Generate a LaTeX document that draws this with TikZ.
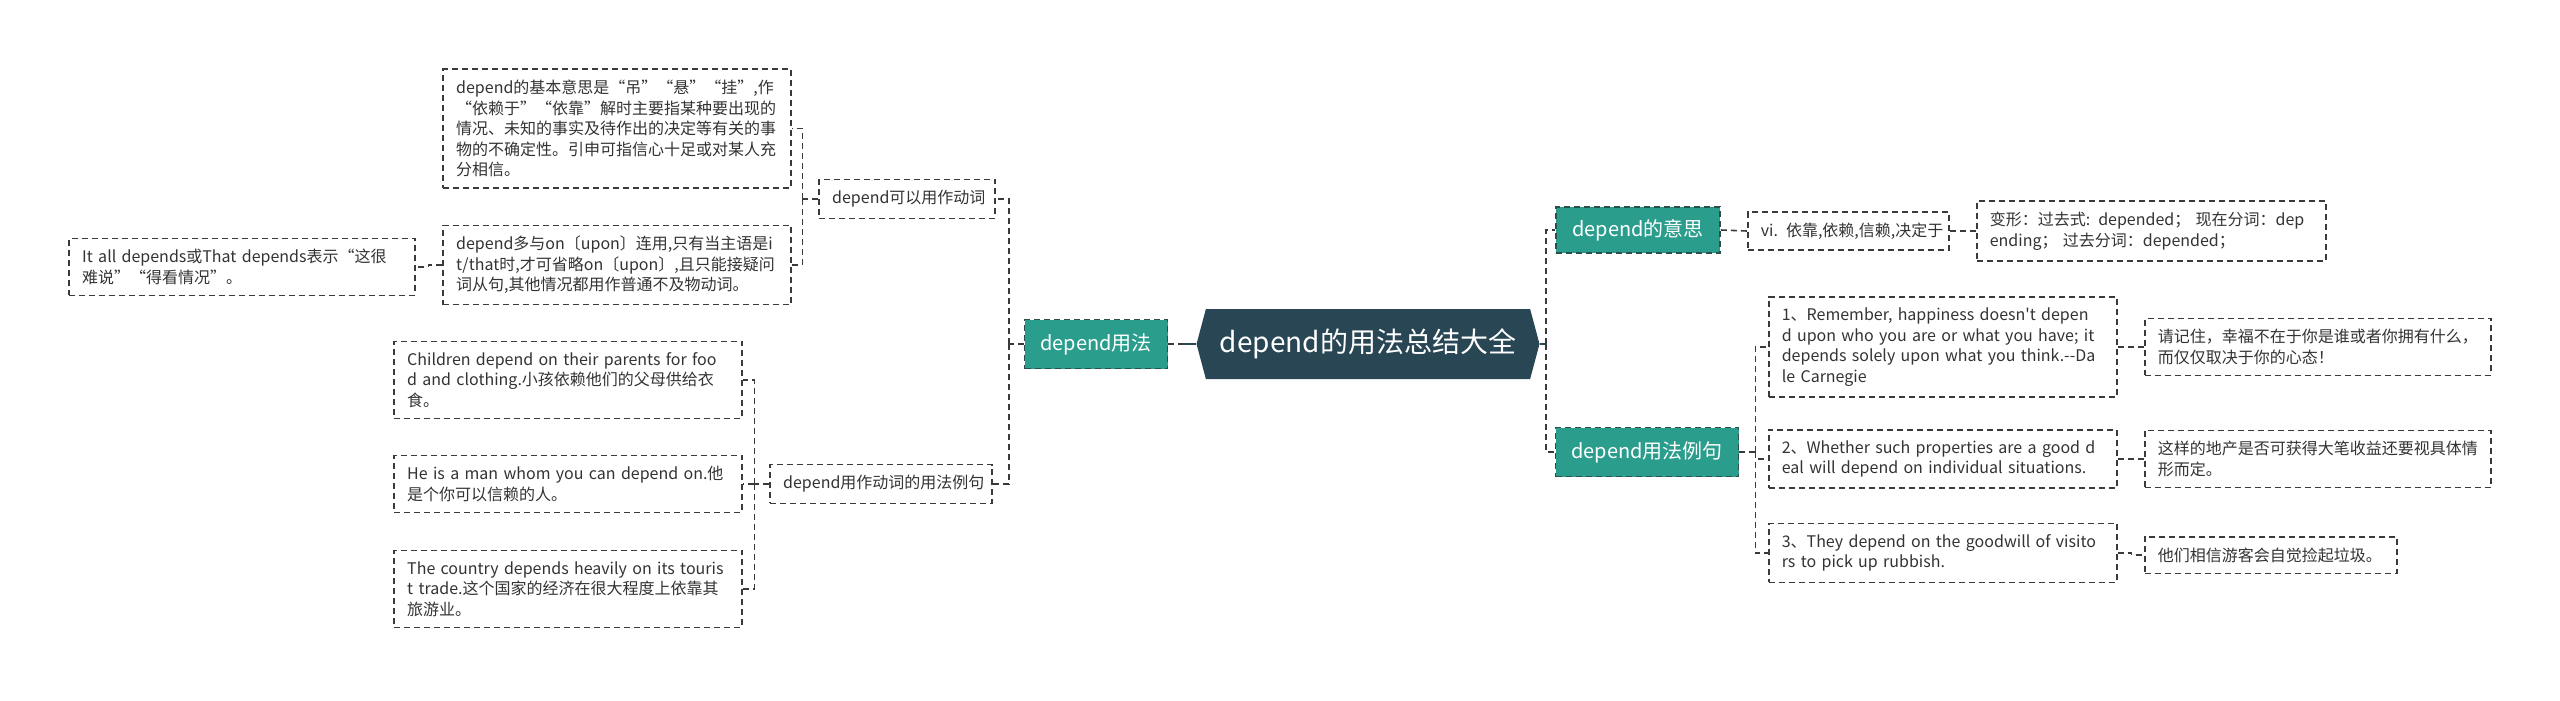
\documentclass[tikz,border=0pt]{standalone}
\usepackage{fontspec}
\setmainfont{Noto Sans CJK SC}[Ligatures=TeXOff]
\usetikzlibrary{shapes.symbols}
\definecolor{rootc}{HTML}{284654}
\definecolor{tealc}{HTML}{2A9D8C}
\definecolor{tealb}{HTML}{2D4F4B}
\definecolor{linec}{HTML}{3A3A3A}
\definecolor{textc}{HTML}{333333}
\newcommand{\lineit}[1]{\mbox{#1}}
\begin{document}
\begin{tikzpicture}[x=0.5pt,y=-0.5pt,
  leaf/.style={draw=linec, line width=0.8pt, dash pattern=on 3pt off 2pt, fill=white, text=textc,
    font=\fontsize{8}{10.25}\selectfont, align=left, inner xsep=6.5pt, inner ysep=5.4pt, text width=#1},
  tealbox/.style={draw=tealb, line width=0.8pt, dash pattern=on 3pt off 2pt, fill=tealc, text=white,
    font=\fontsize{10}{12}\selectfont, inner sep=0pt},
  rootbox/.style={signal, signal to=east and west, signal pointer angle=150, fill=rootc, text=white,
    font=\fontsize{14}{16}\selectfont, minimum width=171.5pt, minimum height=35pt, inner sep=0pt},
  conn/.style={draw=linec, line width=0.8pt, dash pattern=on 3pt off 2pt},
  rootline/.style={draw=rootc, line width=1.2pt},
]
\useasboundingbox (0,0) rectangle (2560,701);

% central and main branches
\node[rootbox] (root) at (1368,344) {depend的用法总结大全};
\node[tealbox, minimum width=71.5pt, minimum height=24.5pt] (yf) at (1096,344) {depend用法};
\node[tealbox, minimum width=82pt, minimum height=23pt] (ys) at (1638,230) {depend的意思};
\node[tealbox, minimum width=91.5pt, minimum height=24.5pt] (lj) at (1647,452) {depend用法例句};

% left side
\node[leaf=75pt, anchor=east] (v) at (996,199) {\lineit{depend可以用作动词}};
\node[leaf=98pt, anchor=east] (lj2) at (993,484) {\lineit{depend用作动词的用法例句}};
\node[leaf=161pt, anchor=east] (a) at (792,128.5) {\lineit{depend的基本意思是“吊”“悬”“挂”,作}\\\lineit{“依赖于”“依靠”解时主要指某种要出现的}\\\lineit{情况、未知的事实及待作出的决定等有关的事}\\\lineit{物的不确定性。引申可指信心十足或对某人充}\\\lineit{分相信。}};
\node[leaf=161pt, anchor=east] (b) at (792,265) {\lineit{depend多与on〔upon〕连用,只有当主语是i}\\\lineit{t/that时,才可省略on〔upon〕,且只能接疑问}\\\lineit{词从句,其他情况都用作普通不及物动词。}};
\node[leaf=160pt, anchor=east] (c) at (416,267) {\lineit{It all depends或That depends表示“这很}\\\lineit{难说”“得看情况”。}};
\node[leaf=161pt, anchor=east] (ch) at (743,380) {\lineit{Children depend on their parents for foo}\\\lineit{d and clothing.小孩依赖他们的父母供给衣}\\\lineit{食。}};
\node[leaf=161pt, anchor=east] (he) at (743,484) {\lineit{He is a man whom you can depend on.他}\\\lineit{是个你可以信赖的人。}};
\node[leaf=161pt, anchor=east] (co) at (743,589) {\lineit{The country depends heavily on its touris}\\\lineit{t trade.这个国家的经济在很大程度上依靠其}\\\lineit{旅游业。}};

% right side
\node[leaf=87.5pt, anchor=west] (vi) at (1747,231) {\lineit{vi. 依靠,依赖,信赖,决定于}};
\node[leaf=161.5pt, anchor=west] (bx) at (1976,231) {\lineit{变形：过去式: depended； 现在分词：dep}\\\lineit{ending； 过去分词：depended；}};
\node[leaf=161pt, anchor=west] (e1) at (1768,347) {\lineit{1、Remember, happiness doesn't depen}\\\lineit{d upon who you are or what you have; it}\\\lineit{depends solely upon what you think.--Da}\\\lineit{le Carnegie}};
\node[leaf=161pt, anchor=west] (e2) at (1768,459) {\lineit{2、Whether such properties are a good d}\\\lineit{eal will depend on individual situations.}};
\node[leaf=161pt, anchor=west] (e3) at (1768,553) {\lineit{3、They depend on the goodwill of visito}\\\lineit{rs to pick up rubbish.}};
\node[leaf=160pt, anchor=west] (t1) at (2144,347) {\lineit{请记住，幸福不在于你是谁或者你拥有什么，}\\\lineit{而仅仅取决于你的心态！}};
\node[leaf=160pt, anchor=west] (t2) at (2144,459) {\lineit{这样的地产是否可获得大笔收益还要视具体情}\\\lineit{形而定。}};
\node[leaf=113pt, anchor=west] (t3) at (2144,555) {\lineit{他们相信游客会自觉捡起垃圾。}};

% connectors
\draw[conn] (yf.east) -- ++(14,0) coordinate (rj);
\draw[rootline] (rj) -- (root.west);
\draw[rootline] (root.east) -- ++(6,0) coordinate (rk);
\draw[conn] (rk) |- (ys.west);
\draw[conn] (rk) |- (lj.west);

\draw[conn] (yf.west) -- ++(-15,0) coordinate (lk);
\draw[conn] (lk) |- (v.east);
\draw[conn] (lk) |- (lj2.east);

\draw[conn] (v.west) -- ++(-16,0) coordinate (vk);
\draw[conn] (vk) |- (a.east);
\draw[conn] (vk) |- (b.east);
\draw[conn] (b.west) -- ++(-14,0) |- (c.east);

\draw[conn] (lj2.west) -- ++(-15,0) coordinate (jk);
\draw[conn] (jk) |- (ch.east);
\draw[conn] (jk) |- (he.east);
\draw[conn] (jk) |- (co.east);

\draw[conn] (ys.east) -- (vi.west);
\draw[conn] (vi.east) -- (bx.west);

\draw[conn] (lj.east) -- ++(16,0) coordinate (ek);
\draw[conn] (ek) |- (e1.west);
\draw[conn] (ek) |- (e2.west);
\draw[conn] (ek) |- (e3.west);
\draw[conn] (e1.east) -- ++(14,0) |- (t1.west);
\draw[conn] (e2.east) -- ++(14,0) |- (t2.west);
\draw[conn] (e3.east) -- ++(14,0) |- (t3.west);
\end{tikzpicture}
\end{document}
